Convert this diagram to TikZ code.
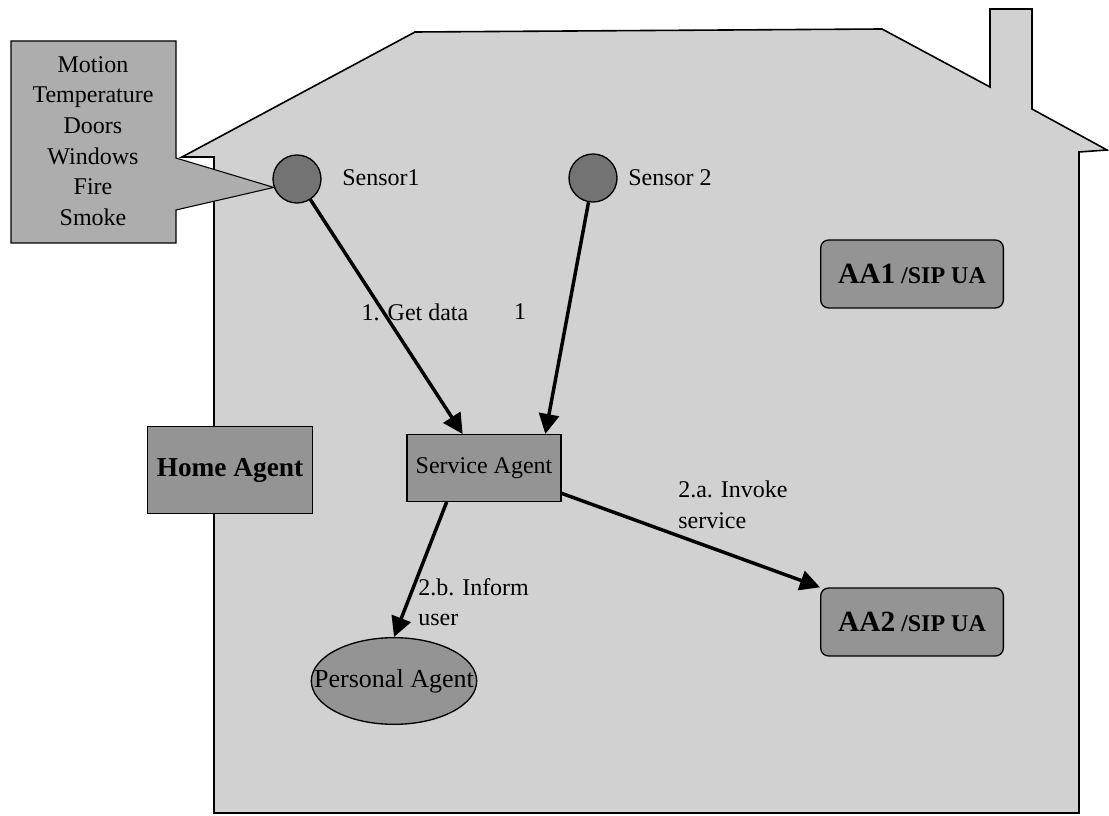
\documentclass[tikz,border=0pt]{standalone}
\usepackage{fontspec}
\setmainfont{Liberation Serif}
\usetikzlibrary{arrows.meta,shapes.geometric}

\begin{document}
\begin{tikzpicture}[x=0.75pt,y=-0.75pt,font=\fontsize{18}{23}\selectfont,
  house/.style={draw, line width=1.2pt, fill=black!18},
  callout/.style={draw, line width=0.8pt, fill=black!32},
  sensor/.style={circle, draw, line width=1pt, fill=black!55,
                 minimum size=36pt, inner sep=0pt},
  agent/.style={draw, line width=1pt, fill=black!42, inner sep=0pt, align=center},
  ua/.style={agent, rounded corners=6pt, minimum width=137pt, minimum height=51pt},
  lbl/.style={align=left, inner sep=0pt},
  arr/.style={-{Triangle[length=15pt,width=15pt]}, line width=2.6pt}
]
  \useasboundingbox (0,0) rectangle (1109,816);
  \draw[house] (214,813) -- (214,157) -- (182,157) -- (415,32) -- (882,29)
    -- (990,87) -- (990,9) -- (1032,9) -- (1032,109) -- (1107,150)
    -- (1079,152) -- (1079,813) -- cycle;

  \node[sensor] (s1) at (297,179) {};
  \node[sensor] (s2) at (593,178) {};
  \node[anchor=west, inner sep=0pt] (s1lbl) at (342,178) {Sensor1};
  \node[anchor=west, inner sep=0pt] (s2lbl) at (628,178) {Sensor 2};

  \draw[callout] (11,41) -- (176,41) -- (176,158) -- (s1.200) -- (176,210)
    -- (176,243) -- (11,243) -- cycle;
  \node[align=center, inner sep=0pt] (kinds) at (93,141)
    {Motion\\Temperature\\Doors\\Windows\\Fire\\Smoke};

  \node[agent, minimum width=124pt, minimum height=65pt,
        font=\fontsize{20.5}{24}\selectfont\bfseries] (home) at (230,470) {Home Agent};
  \node[agent, minimum width=115.5pt, minimum height=50pt] (svc) at (484,468) {Service Agent};
  \node[agent, ellipse, inner xsep=-16pt, minimum width=123pt, minimum height=65pt,
        font=\fontsize{19.5}{23}\selectfont] (pers) at (394,681) {Personal Agent};
  \node[ua] (aa1) at (912,274)
    {{\fontsize{22}{26}\selectfont\bfseries AA1} {\bfseries /SIP UA}};
  \node[ua] (aa2) at (912,622)
    {{\fontsize{22}{26}\selectfont\bfseries AA2} {\bfseries /SIP UA}};

  \draw[arr] (s1) -- ([xshift=-16pt]svc.north);
  \draw[arr] (s2) -- ([xshift=46pt]svc.north);
  \draw[arr] ([xshift=-28pt]svc.south) -- (pers.north);
  \draw[arr] ([yshift=-19pt]svc.east) -- (aa2.north west);

  \node[lbl] (getdata) at (415,312) {1. Get data};
  \node[lbl] (one) at (520,312) {1};
  \node[lbl, anchor=north west] (inform) at (418,578) {2.b. Inform\\user};
  \node[lbl, anchor=north west] (invoke) at (678,481) {2.a. Invoke\\service};
\end{tikzpicture}
\end{document}
